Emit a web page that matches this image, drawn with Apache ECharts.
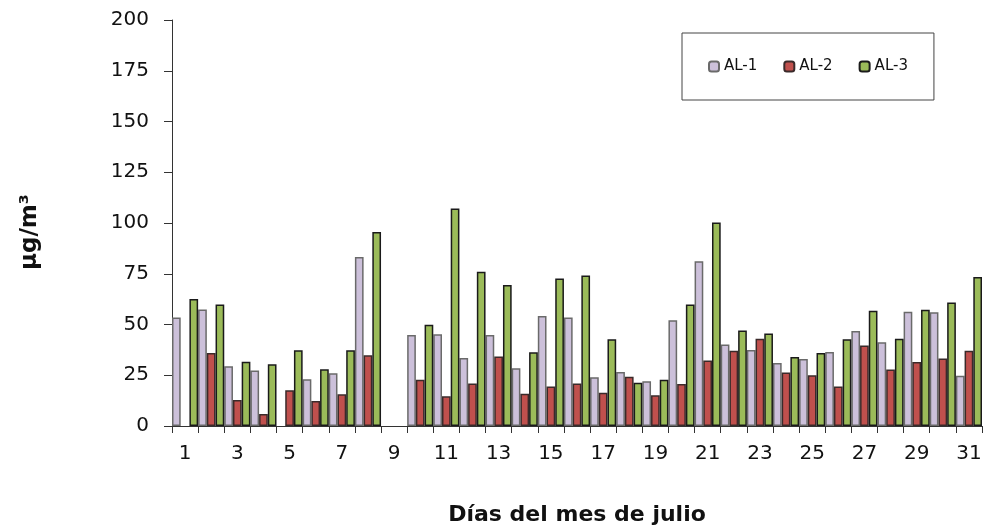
<!DOCTYPE html>
<html>
<head>
<meta charset="utf-8">
<script src="https://cdn.jsdelivr.net/npm/echarts@6/dist/echarts.min.js"></script>
<style>
html,body{margin:0;padding:0;background:#fff;}
#chart{width:984px;height:529px;}
</style>
</head>
<body>
<div id="chart"></div>
<script>
var days = ['1','2','3','4','5','6','7','8','9','10','11','12','13','14','15','16','17','18','19','20','21','22','23','24','25','26','27','28','29','30','31'];
var al1 = [53.4, 57.4, 29.4, 27.3, null, 23.0, 26.0, 83.3, null, 44.8, 45.2, 33.5, 44.8, 28.4, 54.2, 53.4, 24.0, 26.6, 22.0, 52.1, 81.1, 40.1, 37.4, 31.0, 33.0, 36.5, 46.8, 41.2, 56.3, 56.0, 24.8];
var al2 = [null, 36.0, 12.8, 5.9, 17.6, 12.3, 15.6, 34.8, null, 22.8, 14.6, 20.9, 34.2, 15.9, 19.4, 20.9, 16.4, 24.3, 15.1, 20.7, 32.3, 37.1, 43.0, 26.3, 25.0, 19.4, 39.7, 27.8, 31.5, 33.2, 37.1];
var al3 = [62.6, 59.8, 31.7, 30.4, 37.3, 27.9, 37.3, 95.6, null, 49.9, 107.1, 76.0, 69.5, 36.3, 72.6, 74.1, 42.7, 21.3, 22.8, 59.9, 100.2, 47.0, 45.6, 34.0, 36.0, 42.7, 56.8, 43.0, 57.3, 60.8, 73.4];
var seriesNames = ['AL-1', 'AL-2', 'AL-3'];

var FONT = 'DejaVu Sans';
var chart = echarts.init(document.getElementById('chart'));
function bar(name, data, color, border) {
  return {
    name: name, type: 'bar', data: data,
    barGap: '0%', barCategoryGap: '0%',
    itemStyle: { color: color, borderColor: border, borderWidth: 1.5 },
    emphasis: { disabled: true }
  };
}
chart.setOption({
  animation: false,
  backgroundColor: '#ffffff',
  textStyle: { fontFamily: FONT },
  grid: { left: 172, right: 2, top: 20, bottom: 103, outerBoundsMode: 'none', containLabel: false },
  legend: {
    left: 682, top: 33,
    padding: [26, 26, 26, 26],
    itemWidth: 10, itemHeight: 10, itemGap: 26,
    borderColor: '#444', borderWidth: 1,
    textStyle: { fontFamily: FONT, fontSize: 15, color: '#111' },
    data: seriesNames
  },
  xAxis: {
    type: 'category', data: days,
    boundaryGap: true,
    name: 'Días del mes de julio', nameLocation: 'middle', nameGap: 78,
    nameTextStyle: { fontFamily: FONT, fontSize: 22, fontWeight: 'bold', color: '#111' },
    axisLine: { lineStyle: { color: '#333', width: 1 } },
    axisTick: { show: true, length: 7, alignWithLabel: false, interval: 0, lineStyle: { color: '#333' } },
    axisLabel: { interval: 1, fontSize: 20, color: '#111', margin: 18 },
    splitLine: { show: false }
  },
  yAxis: {
    type: 'value', min: 0, max: 200, interval: 25,
    name: 'µg/m³', nameLocation: 'middle', nameGap: 130, nameRotate: 90,
    nameTextStyle: { fontFamily: FONT, fontSize: 23, fontWeight: 'bold', color: '#111', padding: [0, 0, 0, -18] },
    axisLine: { show: true, lineStyle: { color: '#333', width: 1 } },
    axisTick: { show: true, length: 8, lineStyle: { color: '#333' } },
    axisLabel: { fontSize: 20, color: '#111', margin: 23 },
    splitLine: { show: false }
  },
  series: [
    bar(seriesNames[0], al1, '#CCC0DA', '#6a6a6a'),
    bar(seriesNames[1], al2, '#C0504D', '#3a2a2a'),
    bar(seriesNames[2], al3, '#9BBB59', '#1a1a1a')
  ]
});
</script>
</body>
</html>
